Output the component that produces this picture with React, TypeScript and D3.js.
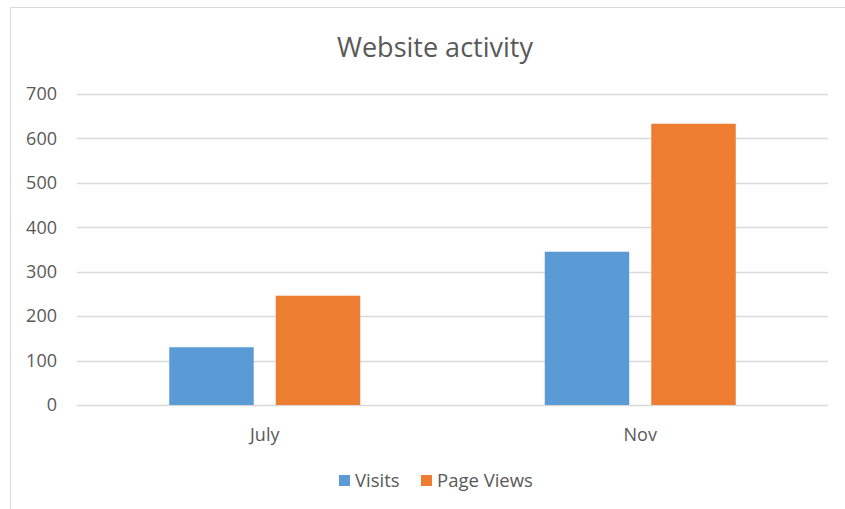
import { useEffect, useRef } from "react";
import * as d3 from "d3";

const categories = ["July", "Nov"];
const seriesNames = ["Visits", "Page Views"];
const visits = [130, 345];
const pageViews = [246, 633];
const yTicks = [0, 100, 200, 300, 400, 500, 600, 700];
const colors = ["#5b9bd5", "#ed7d31"];

const FONT = "'Open Sans', sans-serif";
const TEXT = "#595959";

const App = () => {
  const ref = useRef<SVGSVGElement | null>(null);

  useEffect(() => {
    drawChart();
  }, []);

  const drawChart = () => {
    const svg = d3.select(ref.current);
    svg.selectAll("*").remove();

    const W = 845;
    const H = 509;
    const plot = { left: 77, right: 828, top: 94, bottom: 405 };

    // chart frame
    svg
      .append("rect")
      .attr("x", 10.5)
      .attr("y", 7.5)
      .attr("width", W + 10)
      .attr("height", H + 10)
      .attr("fill", "#fff")
      .attr("stroke", "#d9d9d9");

    svg
      .append("text")
      .attr("x", 435)
      .attr("y", 57)
      .attr("text-anchor", "middle")
      .attr("font-family", FONT)
      .attr("font-size", 27)
      .attr("fill", TEXT)
      .text("Website activity");

    const y = d3.scaleLinear().domain([0, 700]).range([plot.bottom, plot.top]);
    const x0 = d3.scaleBand<string>().domain(categories).range([plot.left, plot.right]);
    const x1 = d3
      .scaleBand<string>()
      .domain(seriesNames)
      .range([0, x0.bandwidth()])
      .paddingInner(0.207)
      .paddingOuter(0.866);

    // gridlines
    svg
      .append("g")
      .selectAll("line")
      .data(yTicks)
      .join("line")
      .attr("x1", plot.left)
      .attr("x2", plot.right)
      .attr("y1", (d) => Math.round(y(d)) + 0.5)
      .attr("y2", (d) => Math.round(y(d)) + 0.5)
      .attr("stroke", "#d9d9d9")
      .attr("stroke-width", 1.5);

    // y labels
    svg
      .append("g")
      .selectAll("text")
      .data(yTicks)
      .join("text")
      .attr("x", 57)
      .attr("y", (d) => y(d))
      .attr("dy", "0.35em")
      .attr("text-anchor", "end")
      .attr("font-family", FONT)
      .attr("font-size", 18)
      .attr("fill", TEXT)
      .text((d) => d);

    const rows = categories.map((c, i) => ({ cat: c, values: [visits[i], pageViews[i]] }));

    const groups = svg
      .append("g")
      .selectAll("g")
      .data(rows)
      .join("g")
      .attr("transform", (d) => `translate(${x0(d.cat)},0)`);

    groups
      .selectAll("rect")
      .data((d) => d.values.map((v, j) => ({ name: seriesNames[j], v, j })))
      .join("rect")
      .attr("x", (d) => x1(d.name)!)
      .attr("width", x1.bandwidth())
      .attr("y", (d) => y(d.v))
      .attr("height", (d) => y(0) - y(d.v))
      .attr("fill", (d) => colors[d.j]);

    // x labels
    svg
      .append("g")
      .selectAll("text")
      .data(categories)
      .join("text")
      .attr("x", (d) => x0(d)! + x0.bandwidth() / 2)
      .attr("y", 441)
      .attr("text-anchor", "middle")
      .attr("font-family", FONT)
      .attr("font-size", 18)
      .attr("fill", TEXT)
      .text((d) => d);

    // legend
    const legendX = [339, 421];
    const legend = svg
      .append("g")
      .selectAll("g")
      .data(seriesNames)
      .join("g")
      .attr("transform", (_, i) => `translate(${legendX[i]},475)`);
    legend
      .append("rect")
      .attr("width", 11)
      .attr("height", 11)
      .attr("fill", (_, i) => colors[i]);
    legend
      .append("text")
      .attr("x", 16)
      .attr("y", 12)
      .attr("font-family", FONT)
      .attr("font-size", 18.5)
      .attr("fill", TEXT)
      .text((d) => d);
  };

  return (
    <svg
      ref={ref}
      width={845}
      height={509}
      style={{ position: "absolute", left: 0, top: 0, background: "#fff" }}
    />
  );
};

export default App;
